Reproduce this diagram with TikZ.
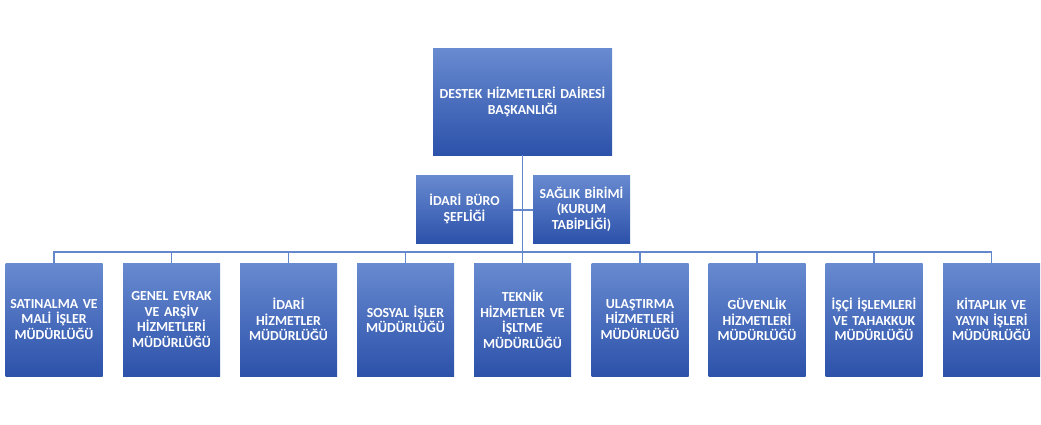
\documentclass[tikz,border=0pt]{standalone}
\usepackage{fontspec}
\setmainfont{Carlito}[BoldFont={Carlito Bold}]
\definecolor{boxtop}{RGB}{104,138,208}
\definecolor{boxbot}{RGB}{44,82,170}
\definecolor{linec}{RGB}{100,134,204}
\begin{document}
\begin{tikzpicture}[x=1pt,y=-1pt,
  unit/.style={draw=none, top color=boxtop, bottom color=boxbot, text=white,
    font=\fontsize{13.8}{15.5}\selectfont\bfseries, align=center, inner sep=0pt,
    minimum width=97pt, minimum height=113pt, text width=97pt},
  asst/.style={unit, minimum height=68pt},
  head/.style={unit, minimum width=179pt, minimum height=106pt, text width=177pt},
  conn/.style={draw=linec, line width=1.3pt}]
\useasboundingbox (0,0) rectangle (1041,425);
\node[head] (top) at (522.5,102) {DESTEK HİZMETLERİ DAİRESİ\\BAŞKANLIĞI};
\node[asst] (a1) at (464.5,209) {İDARİ BÜRO\\ŞEFLİĞİ};
\node[asst] (a2) at (581.5,209) {SAĞLIK BİRİMİ\\(KURUM\\TABİPLİĞİ)};
\node[unit] (b1) at (54,319.5) {SATINALMA VE\\MALİ İŞLER\\MÜDÜRLÜĞÜ};
\node[unit] (b2) at (171.5,319.5) {GENEL EVRAK\\VE ARŞİV\\HİZMETLERİ\\MÜDÜRLÜĞÜ};
\node[unit] (b3) at (288.5,319.5) {İDARİ\\HİZMETLER\\MÜDÜRLÜĞÜ};
\node[unit] (b4) at (405.5,319.5) {SOSYAL İŞLER\\MÜDÜRLÜĞÜ};
\node[unit] (b5) at (522.5,319.5) {TEKNİK\\HİZMETLER VE\\İŞLTME\\MÜDÜRLÜĞÜ};
\node[unit] (b6) at (640,319.5) {ULAŞTIRMA\\HİZMETLERİ\\MÜDÜRLÜĞÜ};
\node[unit] (b7) at (757,319.5) {GÜVENLİK\\HİZMETLERİ\\MÜDÜRLÜĞÜ};
\node[unit] (b8) at (874,319.5) {İŞÇİ İŞLEMLERİ\\VE TAHAKKUK\\MÜDÜRLÜĞÜ};
\node[unit] (b9) at (991.5,319.5) {KİTAPLIK VE\\YAYIN İŞLERİ\\MÜDÜRLÜĞÜ};
\coordinate (bus) at (522.5,252);
\coordinate (mid) at (522.5,210);
\draw[conn] (top.south) -- (bus);
\draw[conn] (a1.east |- mid) -- (mid) -- (a2.west |- mid);
\draw[conn] (b1.north) |- (bus) -| (b9.north);
\foreach \b in {b2,b3,b4,b5,b6,b7,b8}{
  \draw[conn] (\b.north) -- (\b.north |- bus);
}
\end{tikzpicture}
\end{document}
